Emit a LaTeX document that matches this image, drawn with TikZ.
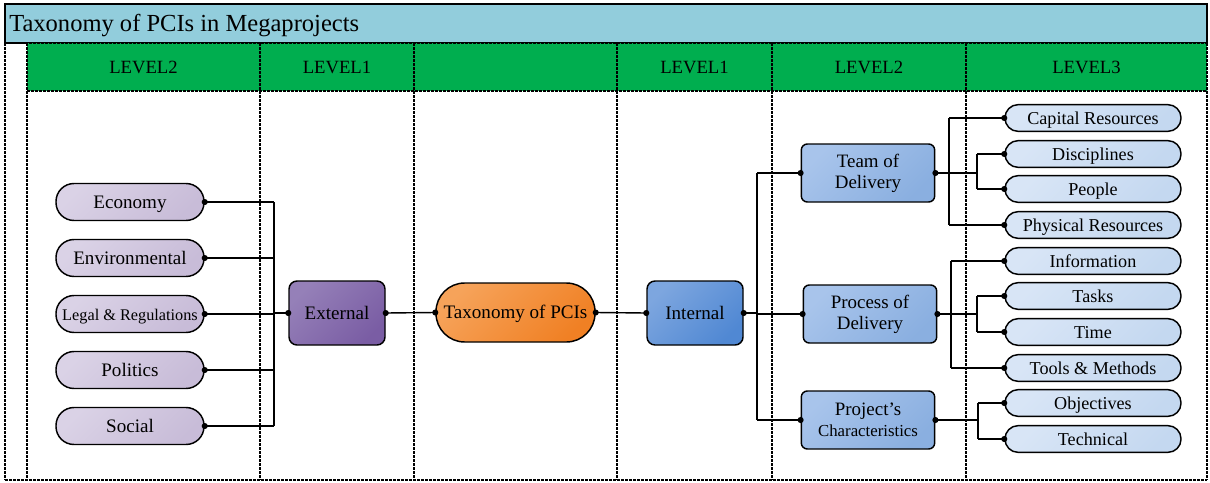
\documentclass[tikz,border=0pt]{standalone}
\usepackage{fontspec}
\setmainfont{Liberation Serif}
\definecolor{titlebg}{HTML}{92CDDC}
\definecolor{hdrgreen}{HTML}{00AE4F}
\definecolor{lpA}{HTML}{DAD2E6}\definecolor{lpB}{HTML}{C8BCD8}
\definecolor{exA}{HTML}{9580B8}\definecolor{exB}{HTML}{7A5DA4}
\definecolor{txA}{HTML}{F6A35A}\definecolor{txB}{HTML}{F08024}
\definecolor{inA}{HTML}{7DA6DF}\definecolor{inB}{HTML}{5088D3}
\definecolor{mdA}{HTML}{A8C4EB}\definecolor{mdB}{HTML}{8AAFE0}
\definecolor{rlA}{HTML}{D8E5F6}\definecolor{rlB}{HTML}{C4D8F0}
\begin{document}
\begin{tikzpicture}[x=0.75pt,y=-0.75pt,
  ln/.style={line width=1.05pt},
  thk/.style={line width=1.8pt},
  dsh/.style={line width=0.8pt, dash pattern=on 2pt off 1pt},
  box/.style={draw, line width=1.1pt, inner sep=0pt, align=center, text height=1.2em, text depth=0.24em},
  pillL/.style={box, rounded corners=13.5pt, minimum width=111pt, minimum height=27.75pt,
    top color=lpA, bottom color=lpB, shading angle=45, font=\fontsize{14.3}{16}\selectfont},
  extbox/.style={box, rounded corners=6pt, minimum width=72pt, minimum height=48pt,
    top color=exA, bottom color=exB, shading angle=45, font=\fontsize{14.3}{16}\selectfont},
  taxbox/.style={box, rounded corners=21.5pt, minimum width=119.25pt, minimum height=44.25pt,
    top color=txA, bottom color=txB, shading angle=45, font=\fontsize{14.3}{16}\selectfont},
  intbox/.style={box, rounded corners=6pt, minimum width=72pt, minimum height=48pt,
    top color=inA, bottom color=inB, shading angle=45, font=\fontsize{14.3}{16}\selectfont},
  midbox/.style={box, text height=, text depth=, rounded corners=4.5pt, minimum width=100pt, minimum height=43.5pt,
    top color=mdA, bottom color=mdB, shading angle=45, font=\fontsize{14.2}{15.8}\selectfont},
  pillR/.style={box, rounded corners=9.8pt, minimum width=132pt, minimum height=20pt,
    top color=rlA, bottom color=rlB, shading angle=45, font=\fontsize{13.6}{15}\selectfont},
  hdr/.style={font=\fontsize{14}{16}\selectfont, inner sep=0pt},
]
\useasboundingbox (0,0) rectangle (1210,482);
% title bar
\draw[fill=titlebg, line width=0.8pt] (5,4) rectangle (1207,43);
\node[anchor=base west, inner sep=0pt, font=\fontsize{18.4}{21}\selectfont] (title) at (9,31) {Taxonomy of PCIs in Megaprojects};
% header
\fill[hdrgreen] (27,43) rectangle (1207,91);
\draw[dsh] (5,43) -- (1207,43);
\draw[dsh] (27,91) -- (1207,91);
\draw[dsh] (5,480) -- (1207,480);
\foreach \xx in {5,27,260,414,617,772,966,1207} {\draw[dsh] (\xx,43) -- (\xx,480);}
\node[hdr] (h1) at (143.5,67) {LEVEL2};
\node[hdr] (h2) at (337,67) {LEVEL1};
\node[hdr] (h4) at (694.5,67) {LEVEL1};
\node[hdr] (h5) at (869,67) {LEVEL2};
\node[hdr] (h6) at (1086.5,67) {LEVEL3};
% left leaves
\node[pillL] (econ) at (130,202) {Economy};
\node[pillL] (envi) at (130,258) {Environmental};
\node[pillL, font=\fontsize{12.2}{14}\selectfont] (legal) at (130,314) {Legal \& Regulations};
\node[pillL] (poli) at (130,370) {Politics};
\node[pillL] (soci) at (130,426) {Social};
\node[extbox] (ext) at (337,313) {External};
\node[taxbox] (tax) at (515.5,312.5) {Taxonomy of PCIs};
\node[intbox] (int) at (695,313) {Internal};
\node[midbox] (team) at (868,173) {Team of\\Delivery};
\node[midbox] (proc) at (870,314) {Process of\\Delivery};
\node[midbox] (proj) at (868,420) {Project’s\\{\fontsize{12.6}{15}\selectfont Characteristics}};
% right leaves
\node[pillR] (cap) at (1093,118) {Capital Resources};
\node[pillR] (disc) at (1093,154) {Disciplines};
\node[pillR] (peop) at (1093,189) {People};
\node[pillR] (phys) at (1093,225) {Physical Resources};
\node[pillR] (info) at (1093,261) {Information};
\node[pillR] (task) at (1093,296) {Tasks};
\node[pillR] (time) at (1093,332) {Time};
\node[pillR] (tool) at (1093,368) {Tools \& Methods};
\node[pillR] (obj) at (1093,403) {Objectives};
\node[pillR] (tech) at (1093,439) {Technical};
% bus coordinates
\coordinate (lb) at (274,313);
\coordinate (rb) at (757,313);
\coordinate (tb1) at (949,173);
\coordinate (tb2) at (977,173);
\coordinate (pb1) at (951,314);
\coordinate (pb2) at (977,314);
\coordinate (cb) at (978,420);
% left connectors
\foreach \n in {econ,envi,legal,poli,soci} {\draw[ln] (\n.east) -- (\n.east -| lb);}
\draw[ln] (econ.east -| lb) -- (soci.east -| lb);
\draw[thk] (lb) -- (ext.west);
\draw[ln] (ext.east) -- (tax.west);
\draw[ln] (tax.east) -- (int.west);
\draw[thk] (int.east) -- (rb);
\draw[ln] (team.west -| rb) -- (proj.west -| rb);
\draw[ln] (team.west -| rb) -- (team.west);
\draw[ln] (proc.west -| rb) -- (proc.west);
\draw[ln] (proj.west -| rb) -- (proj.west);
% team
\draw[thk] (team.east) -- (tb1);
\draw[ln] (tb1) -- (tb2);
\draw[ln] (cap.west -| tb1) -- (phys.west -| tb1);
\draw[ln] (disc.west -| tb2) -- (peop.west -| tb2);
\draw[ln] (cap.west -| tb1) -- (cap.west);
\draw[ln] (phys.west -| tb1) -- (phys.west);
\draw[ln] (disc.west -| tb2) -- (disc.west);
\draw[ln] (peop.west -| tb2) -- (peop.west);
% process
\draw[thk] (proc.east) -- (pb1);
\draw[ln] (pb1) -- (pb2);
\draw[ln] (info.west -| pb1) -- (tool.west -| pb1);
\draw[ln] (task.west -| pb2) -- (time.west -| pb2);
\draw[ln] (info.west -| pb1) -- (info.west);
\draw[ln] (tool.west -| pb1) -- (tool.west);
\draw[ln] (task.west -| pb2) -- (task.west);
\draw[ln] (time.west -| pb2) -- (time.west);
% project
\draw[thk] (proj.east) -- (cb);
\draw[ln] (obj.west -| cb) -- (tech.west -| cb);
\draw[ln] (obj.west -| cb) -- (obj.west);
\draw[ln] (tech.west -| cb) -- (tech.west);
% dots
\foreach \p in {econ.east,envi.east,legal.east,poli.east,soci.east,ext.west,ext.east,tax.west,tax.east,int.west,int.east,
  team.west,team.east,proc.west,proc.east,proj.west,proj.east,cap.west,disc.west,peop.west,phys.west,
  info.west,task.west,time.west,tool.west,obj.west,tech.west}
  {\fill (\p) circle (2.3pt);}
\end{tikzpicture}
\end{document}
